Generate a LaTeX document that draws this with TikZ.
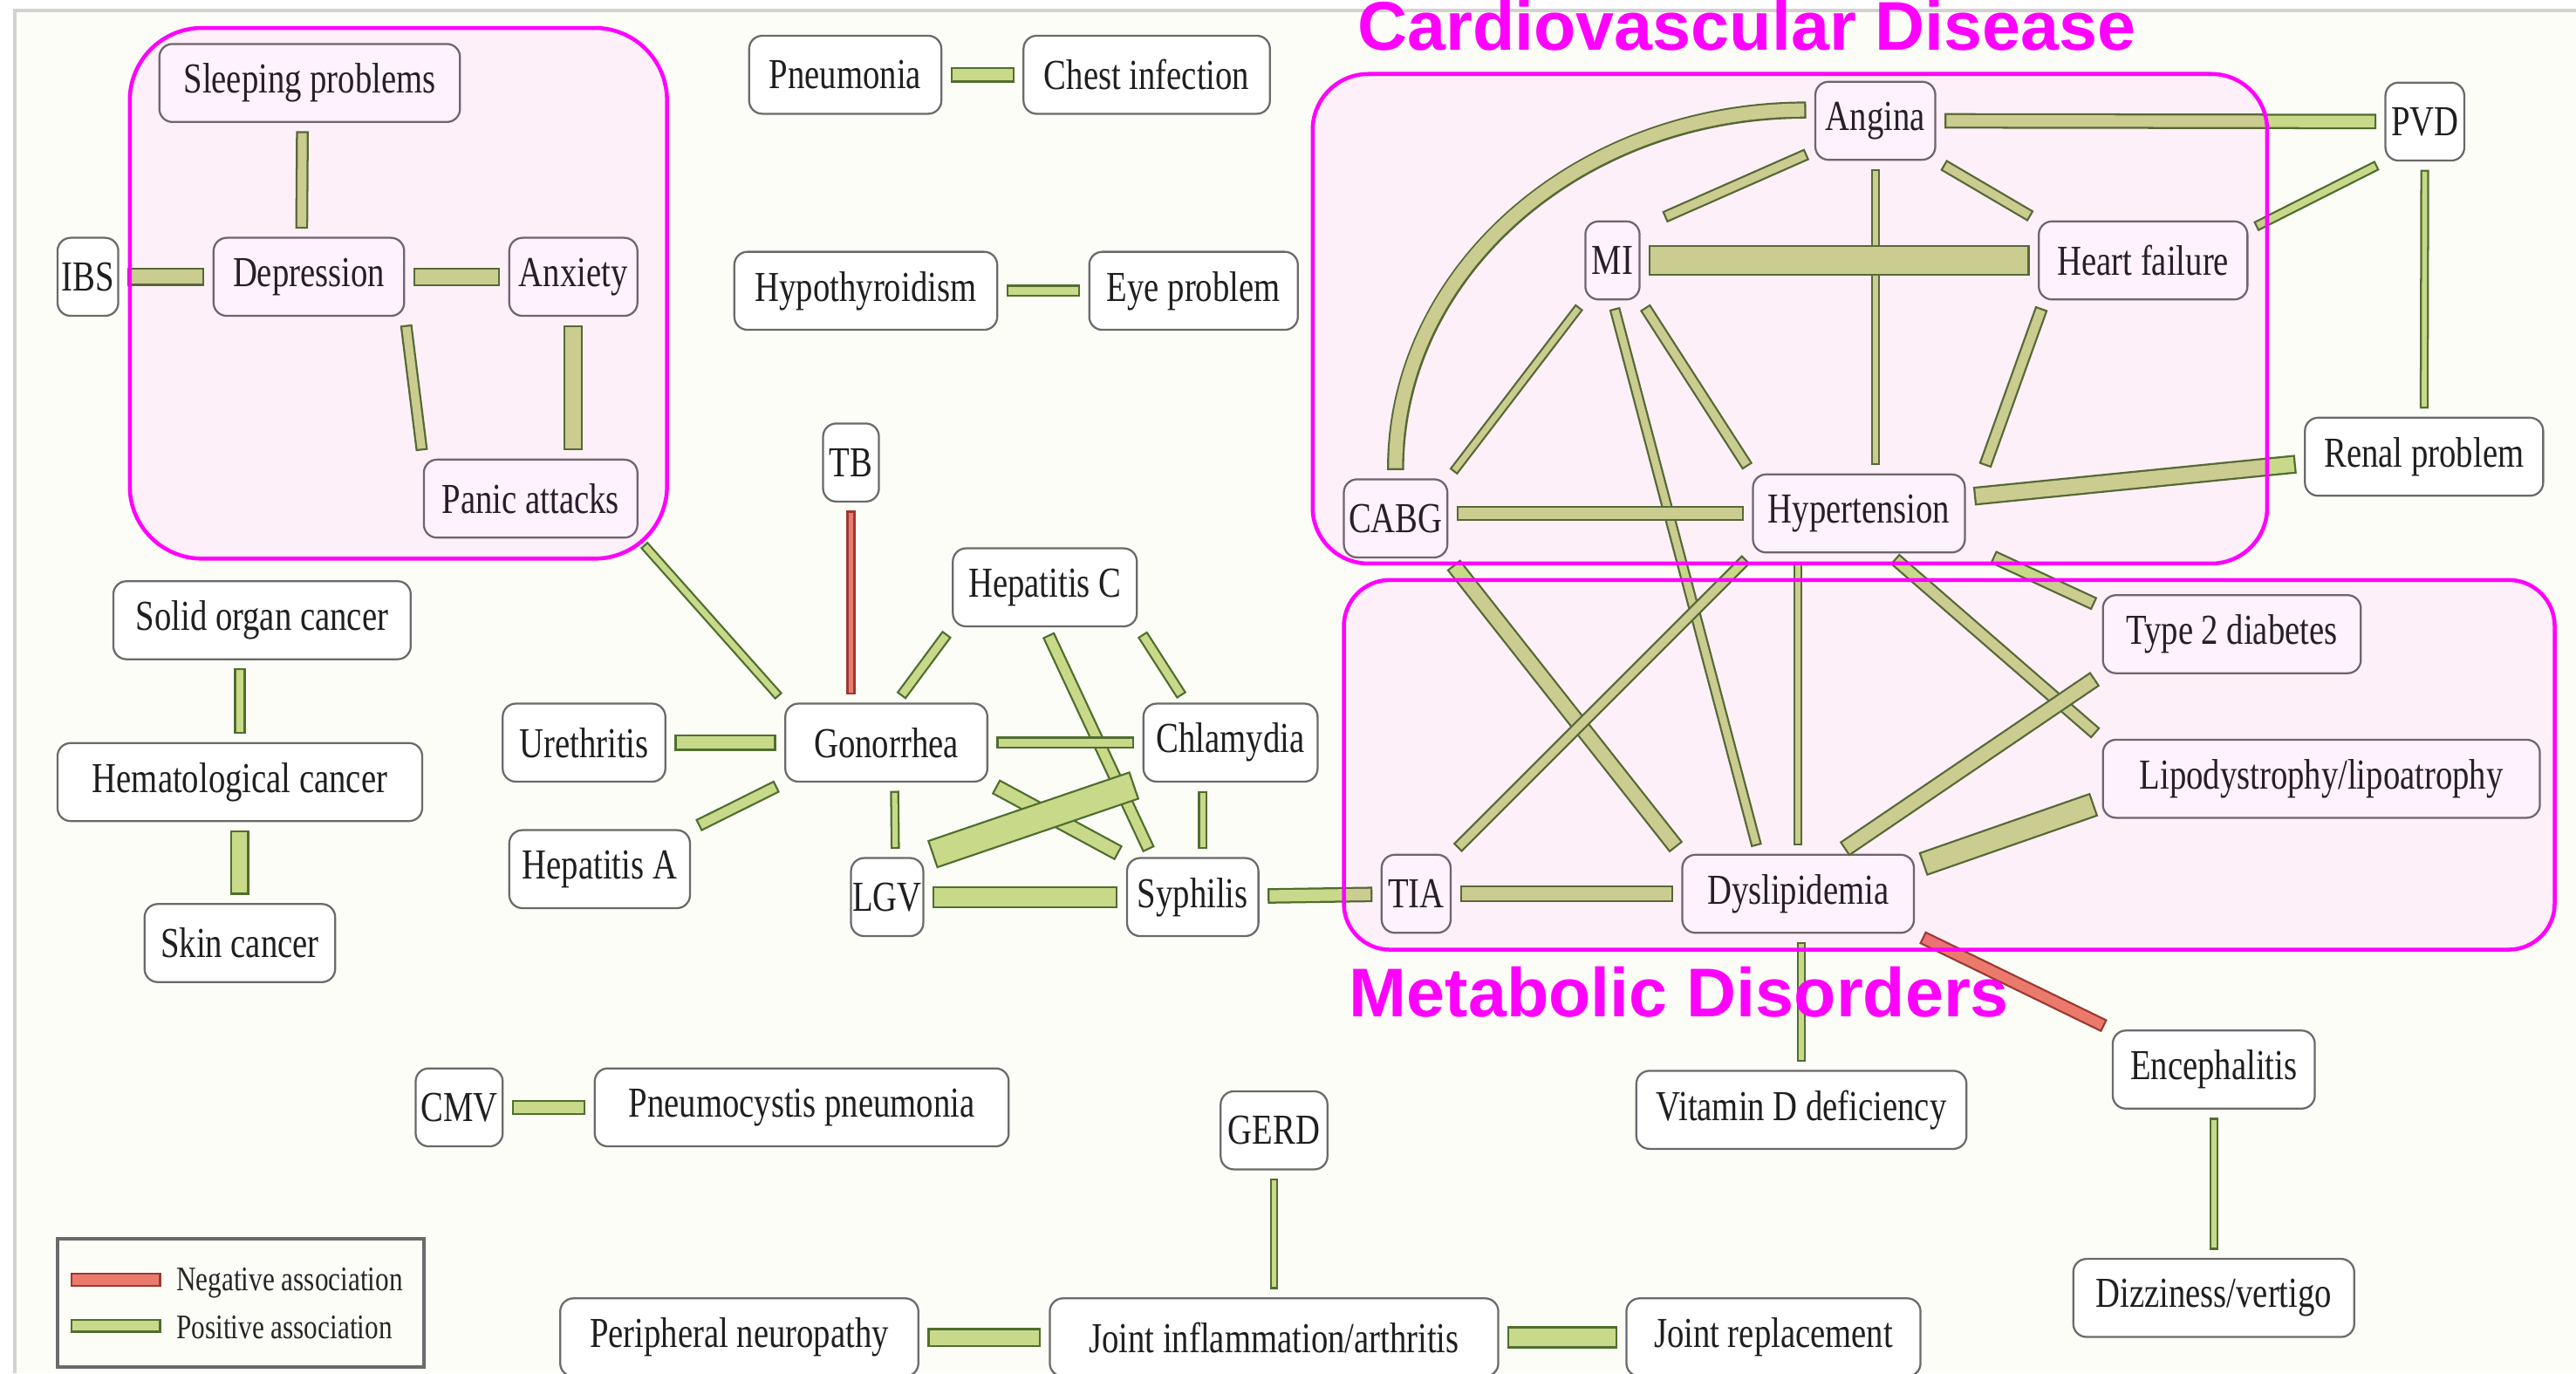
\documentclass[tikz,border=0pt]{standalone}
\usepackage{fontspec}
\setmainfont{Liberation Serif}[FakeStretch=0.79]
\newfontfamily\headfont{Liberation Sans}
\usetikzlibrary{calc}

\definecolor{gfill}{HTML}{C8D98A}
\definecolor{gline}{HTML}{4F6E2E}
\definecolor{rfill}{HTML}{EC7A6C}
\definecolor{rline}{HTML}{9A3A32}
\definecolor{paper}{HTML}{FDFDF8}
\definecolor{frameline}{HTML}{D2D2D2}
\definecolor{boxline}{HTML}{6A6A6A}
\definecolor{hilite}{HTML}{FF00FF}

\tikzset{
  box/.style={draw=boxline, line width=0.6pt, rounded corners=4pt, fill=white,
    inner sep=0pt, minimum height=23.75pt, text=black!88,
    font=\fontsize{13}{15}\selectfont},
  posout/.style={draw=gline, shorten >=2.5pt, shorten <=2.5pt},
  posin/.style={draw=gfill, shorten >=3.1pt, shorten <=3.1pt},
  negout/.style={draw=rline, shorten >=2.5pt, shorten <=2.5pt},
  negin/.style={draw=rfill, shorten >=3.1pt, shorten <=3.1pt},
  group/.style={draw=hilite, line width=1.2pt, fill=hilite, fill opacity=0.05,
    rounded corners=#1},
  heading/.style={text=hilite, anchor=base west, inner sep=0pt,
    font=\headfont\bfseries\fontsize{21}{24}\selectfont},
  legendtext/.style={anchor=west, inner sep=0pt, text=black!85,
    font=\fontsize{10.5}{12}\selectfont},
}

% a labelled disease box: name, x, y, width (in picture units), text
\newcommand\nd[5]{\node[box, minimum width=#4*0.5pt] (#1) at (#2,#3) {#5};}
% an association bar: [pos|neg], total width, from, to
\newcommand\assoc[4][pos]{%
  \draw[#1out, line width=#2] #3 -- #4;
  \draw[#1in, line width=#2-1.2pt] #3 -- #4;}

\begin{document}
\begin{tikzpicture}[x=0.5pt, y=-0.5pt]
\useasboundingbox (0,0) rectangle (1568,836);
\clip (0,0) rectangle (1568,836);

% page and frame
\fill[white] (0,0) rectangle (1568,836);
\fill[paper] (9,6.5) rectangle (1568,836);
\draw[frameline, line width=1pt] (9,836) -- (9,6.5) -- (1568,6.5);

% nodes
\nd{sleep}{188.5}{50.5}{183}{Sleeping problems}
\nd{ibs}{53.5}{168.5}{37}{IBS}
\nd{dep}{188}{168.5}{116}{Depression}
\nd{anx}{349}{168.5}{78}{Anxiety}
\nd{panic}{323}{303.5}{130}{Panic attacks}
\nd{solid}{159.5}{377.5}{181}{Solid organ cancer}
\nd{hema}{146}{476}{222}{Hematological cancer}
\nd{skin}{146}{574}{116}{Skin cancer}
\nd{pneu}{514.5}{45.5}{117}{Pneumonia}
\nd{chest}{698}{45.5}{150}{Chest infection}
\nd{hypo}{527}{177}{160}{Hypothyroidism}
\nd{eye}{726.5}{177}{127}{Eye problem}
\nd{tb}{518}{281.5}{34}{TB}
\nd{hepc}{636}{357.5}{112}{Hepatitis C}
\nd{ureth}{355.5}{452}{99}{Urethritis}
\nd{gon}{539.5}{452}{123}{Gonorrhea}
\nd{chla}{749}{452}{106}{Chlamydia}
\nd{hepa}{365}{529}{110}{Hepatitis A}
\nd{lgv}{540}{546}{44}{LGV}
\nd{syph}{726}{546}{80}{Syphilis}
\nd{cmv}{279.5}{674}{53}{CMV}
\nd{pcp}{488}{674}{252}{Pneumocystis pneumonia}
\nd{gerd}{775.5}{688}{65}{GERD}
\nd{periph}{450}{814}{218}{Peripheral neuropathy}
\nd{joint}{775.5}{814}{273}{Joint inflammation/arthritis}
\nd{jrep}{1079.5}{814}{179}{Joint replacement}
\nd{angina}{1141.5}{73.5}{73}{Angina}
\nd{pvd}{1476}{74}{48}{PVD}
\nd{mi}{981.5}{158.5}{33}{MI}
\nd{hf}{1304.5}{158.5}{127}{Heart failure}
\nd{cabg}{849.5}{315.5}{63}{CABG}
\nd{hyp}{1131.5}{312.5}{129}{Hypertension}
\nd{renal}{1475.5}{278}{145}{Renal problem}
\nd{tdd}{1358.5}{386}{157}{Type 2 diabetes}
\nd{lipo}{1413}{474}{266}{Lipodystrophy/lipoatrophy}
\nd{tia}{862}{544}{42}{TIA}
\nd{dysl}{1094.5}{544}{141}{Dyslipidemia}
\nd{vitd}{1096.5}{675.5}{201}{Vitamin D deficiency}
\nd{enc}{1347.5}{651}{123}{Encephalitis}
\nd{dizzy}{1347.5}{790}{171}{Dizziness/vertigo}

% mental health
\assoc{3.9pt}{([xshift=-2.2pt]sleep.south)}{([xshift=-2.2pt]dep.north)}
\assoc{5.4pt}{(ibs)}{(dep)}
\assoc{5.7pt}{(dep)}{(anx)}
\assoc{3.7pt}{(dep.south east)}{(panic.north west)}
\assoc{5.9pt}{(anx.south)}{(anx.south |- panic.north)}
\assoc{3pt}{(panic.south east)}{(gon.north west)}

% cancers, lung, thyroid
\assoc{3.5pt}{(hema.north |- solid.south)}{(hema.north)}
\assoc{5.7pt}{(hema)}{(skin)}
\assoc{4.7pt}{(pneu)}{(chest)}
\assoc{3.7pt}{(hypo)}{(eye)}

% infections
\assoc[neg]{2.7pt}{(tb.south)}{(tb.south |- gon.north)}
\assoc{3.5pt}{([xshift=3pt]gon.north)}{(hepc.south west)}
\assoc{3.5pt}{(hepc.south east)}{([xshift=-13.5pt]chla.north)}
\assoc{4pt}{(hepc.south)}{([xshift=8pt]syph.north west)}
\assoc{5pt}{(ureth)}{(gon)}
\assoc{3.7pt}{(gon)}{(chla)}
\assoc{4pt}{(hepa.north east)}{(gon.south west)}
\assoc{2.8pt}{([xshift=2.5pt]gon.south)}{([xshift=2.5pt]lgv.north)}
\assoc{5pt}{(gon.south east)}{(syph.north west)}
\assoc{9pt}{(chla.south west)}{(lgv.north east)}
\assoc{2.8pt}{([xshift=-8.5pt]chla.south)}{([xshift=-8.5pt]chla.south |- syph.north)}
\assoc{6.7pt}{(lgv)}{(syph)}
\assoc{4.7pt}{(syph)}{(tia)}
\assoc{4.7pt}{(cmv)}{(pcp)}

% joints, nerves, brain
\assoc{2.3pt}{(gerd)}{(joint)}
\assoc{5.7pt}{(periph)}{(joint)}
\assoc{6.7pt}{(joint)}{(jrep)}
\assoc{2.7pt}{(enc)}{(dizzy)}
\assoc{2.7pt}{(vitd.north |- dysl.south)}{(vitd.north)}
\assoc[neg]{4.2pt}{(dysl.south east)}{(enc.north west)}

% cardiovascular
\draw[posout, line width=5.2pt] ([yshift=3.25pt]angina.west)
  .. controls (960,67) and (849,166) .. (cabg.north);
\draw[posin, line width=4pt] ([yshift=3.25pt]angina.west)
  .. controls (960,67) and (849,166) .. (cabg.north);
\assoc{4.7pt}{(angina)}{(pvd)}
\assoc{3.7pt}{([yshift=3pt]angina.south west)}{([xshift=5pt]mi.north east)}
\assoc{3.7pt}{(angina.south east)}{(hf.north west)}
\assoc{2.7pt}{(angina.south)}{(angina.south |- hyp.north)}
\assoc{9.5pt}{(mi)}{(hf)}
\assoc{3pt}{(mi.south west)}{(cabg.north east)}
\assoc{3.7pt}{(mi.south east)}{(hyp.north west)}
\assoc{3.4pt}{(mi.south)}{([xshift=-12pt]dysl.north)}
\assoc{4pt}{([xshift=2pt]hf.south west)}{([xshift=5pt]hyp.north east)}
\assoc{3.2pt}{(pvd.south west)}{([yshift=-3pt]hf.north east)}
\assoc{2.7pt}{(pvd)}{(renal)}
\assoc{5.7pt}{([yshift=-2pt]renal.west)}{([yshift=5pt]hyp.east)}
\assoc{4.7pt}{(cabg.east |- hyp)}{(hyp)}
\assoc{5.2pt}{(cabg.south east)}{(dysl.north west)}
\assoc{3.7pt}{(hyp.south west)}{(tia.north east)}
\assoc{2.7pt}{(dysl.north |- hyp.south)}{(dysl.north)}
\assoc{4.2pt}{([xshift=6pt]hyp.south east)}{([yshift=-4pt]tdd.north west)}
\assoc{4.2pt}{([xshift=9pt]hyp.south)}{(lipo.north west)}

% metabolic
\assoc{5.2pt}{(tia)}{(dysl)}
\assoc{5.2pt}{([xshift=12pt]dysl.north)}{(tdd.south west)}
\assoc{7.5pt}{([yshift=-4pt]dysl.north east)}{([yshift=-7pt]lipo.west)}

% legend
\node[draw=boxline, line width=0.9pt, fill=paper, inner sep=0pt,
  minimum width=111.5pt, minimum height=39pt] (legend) at (146.5,793) {};
\coordinate (negA) at (38,779);
\coordinate (negB) at (103,779);
\coordinate (posA) at (38,807);
\coordinate (posB) at (103,807);
\assoc[neg]{4.2pt}{(negA)}{(negB)}
\assoc{4.2pt}{(posA)}{(posB)}
\node[legendtext] (negtext) at (107,781) {Negative association};
\node[legendtext] (postext) at (107,808) {Positive association};

% highlighted groups
\draw[group=22pt] (79,17) rectangle (406,340);
\draw[group=17pt] (799,45) rectangle (1380,343);
\draw[group=14pt] (818,353) rectangle (1555,578);
\node[heading] (cvdtitle) at (826,30.5) {Cardiovascular Disease};
\node[heading] (mettitle) at (821,619) {Metabolic Disorders};
\end{tikzpicture}
\end{document}
